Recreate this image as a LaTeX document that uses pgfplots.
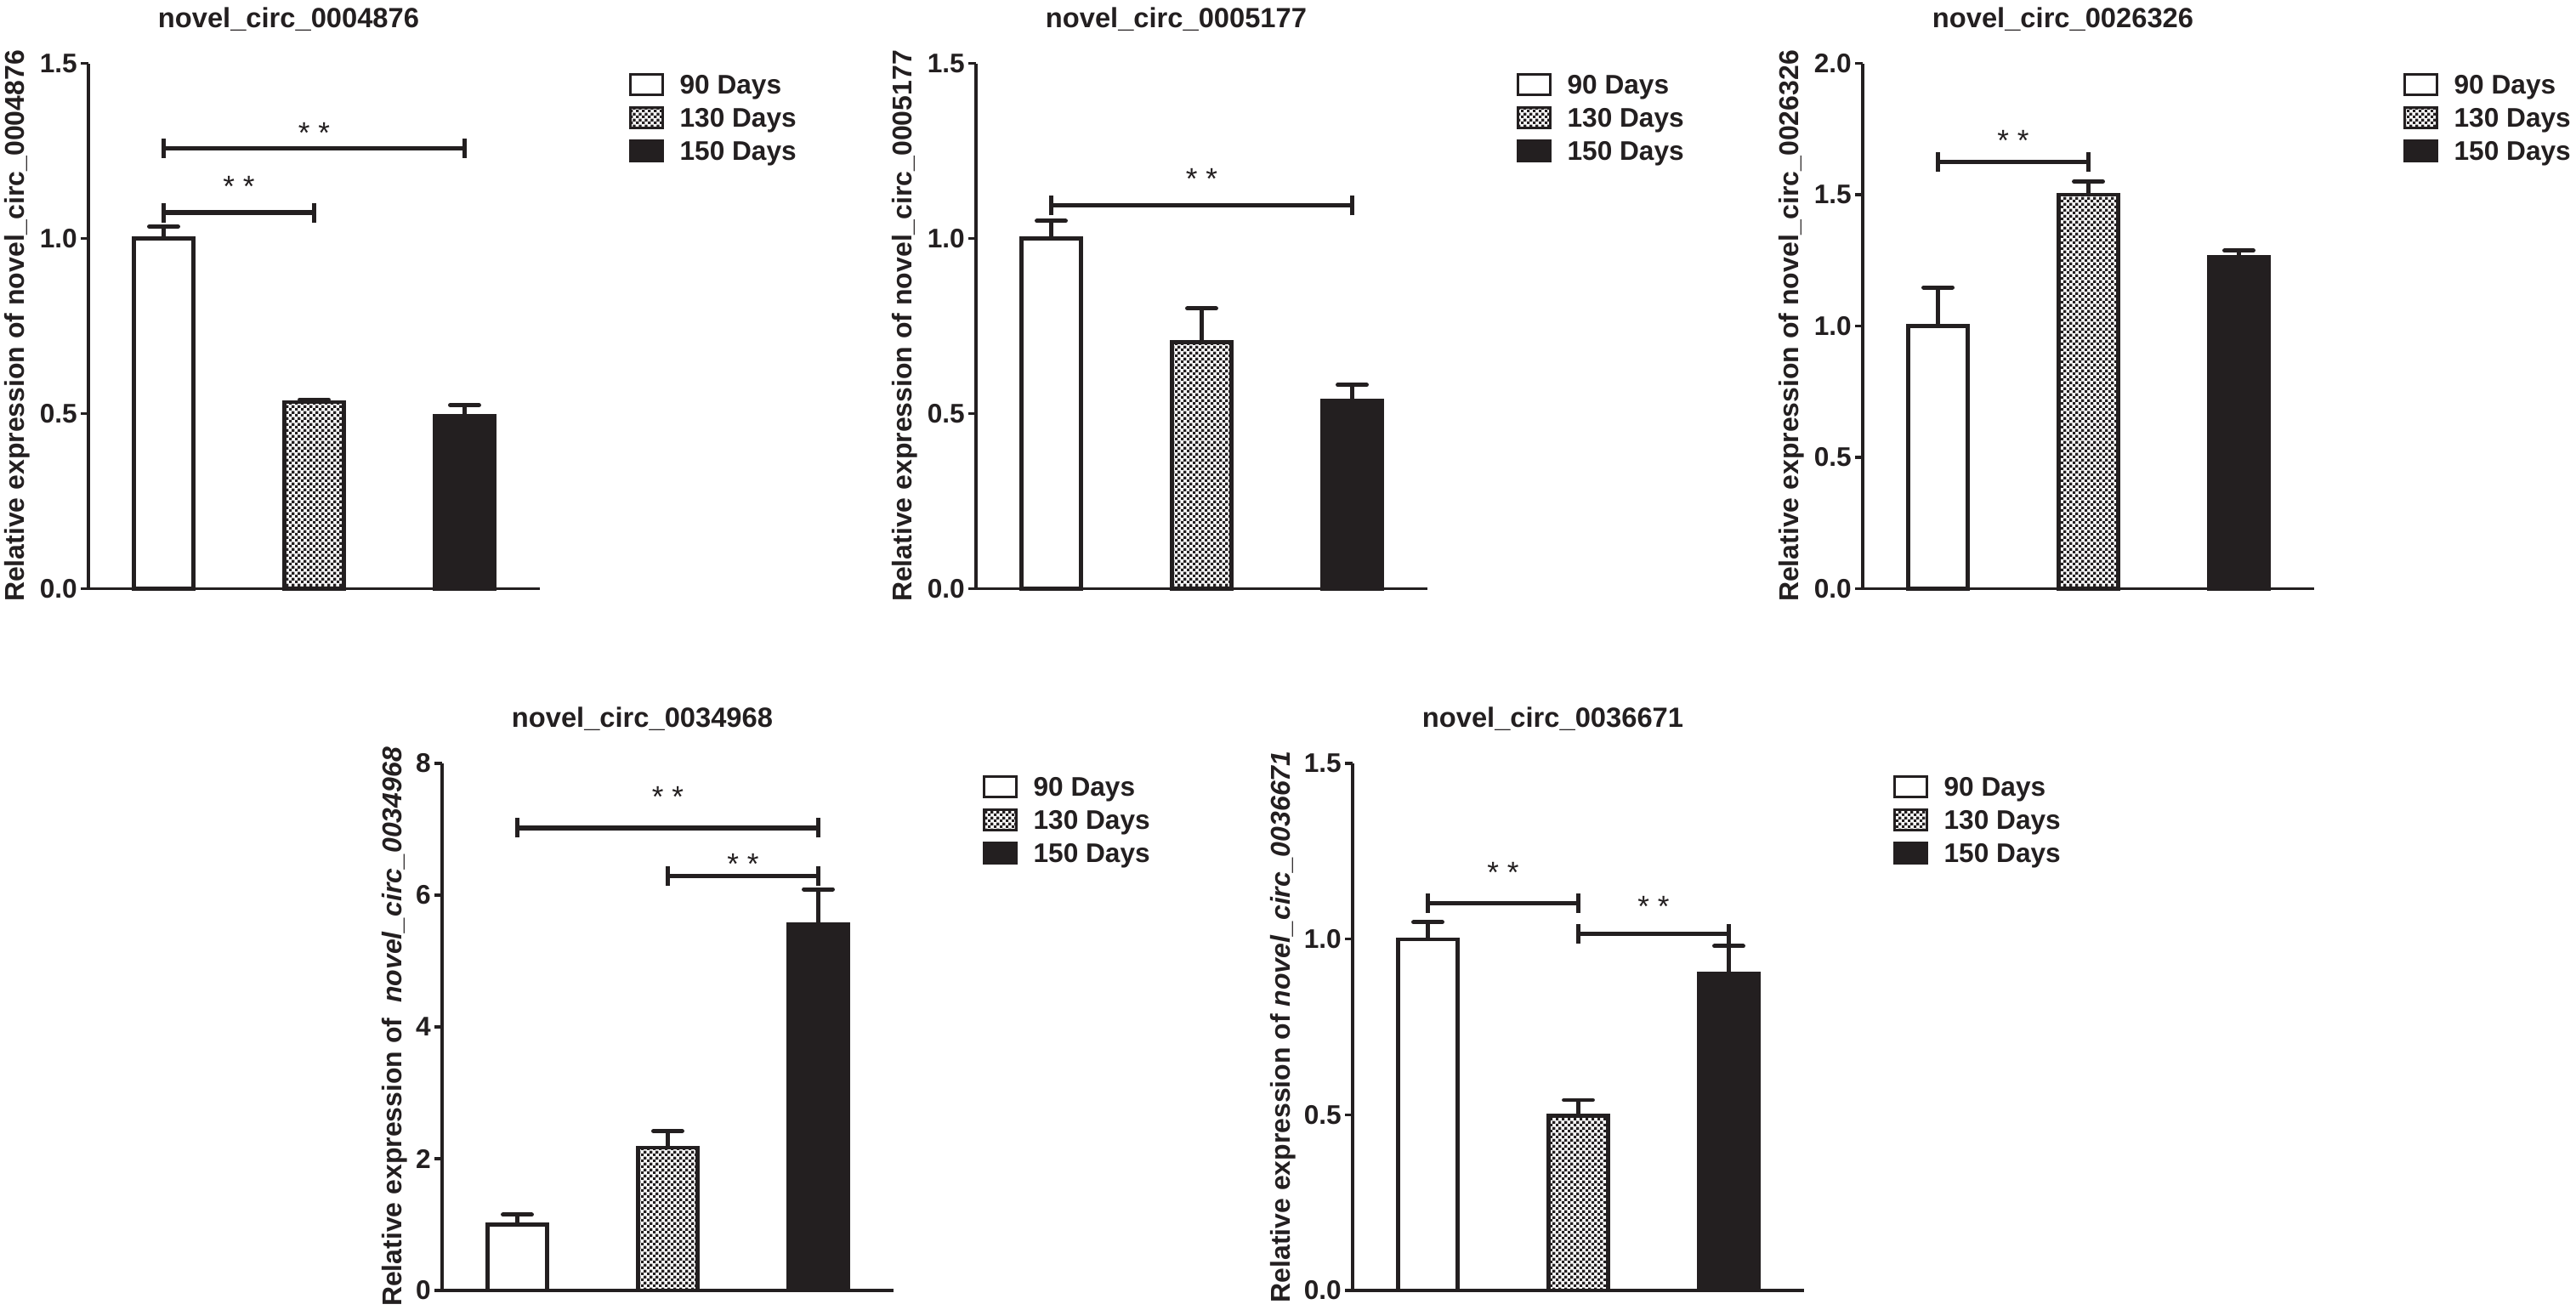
\documentclass[border=0pt]{standalone}
\usepackage{fontspec}
\setmainfont{Liberation Sans}
\usepackage{pgfplots}
\pgfplotsset{compat=1.18}
\usetikzlibrary{patterns}
\definecolor{dk}{RGB}{35,31,32}
\pgfdeclarepatternformonly{checker}{\pgfpointorigin}{\pgfqpoint{1.9pt}{1.9pt}}{\pgfqpoint{1.9pt}{1.9pt}}{%
  \pgfpathrectangle{\pgfpointorigin}{\pgfqpoint{0.95pt}{0.95pt}}%
  \pgfpathrectangle{\pgfqpoint{0.95pt}{0.95pt}}{\pgfqpoint{0.95pt}{0.95pt}}%
  \pgfusepath{fill}}
\pgfplotsset{
  panel/.style={
    scale only axis, width=53.1mm, height=61.8mm,
    xmin=0, xmax=3, ymin=0, clip=false,
    axis lines=left, axis line style={-, line width=0.9pt, draw=dk},
    xtick=\empty, tick align=outside, major tick length=0.9mm,
    ytick style={line width=0.9pt, draw=dk},
    /pgf/number format/assume math mode=true,
    yticklabel style={font=\bfseries\fontsize{9}{9}\selectfont, inner sep=1pt, text=dk,
      /pgf/number format/.cd, fixed, fixed zerofill, precision=1},
    ybar, bar width=7.0mm, bar shift=0pt,
    title style={font=\bfseries\fontsize{9.3}{9.3}\selectfont, text=dk,
      at={(axis description cs:0.4435,1)}, anchor=base, yshift=2.1mm},
    ylabel style={font=\bfseries\fontsize{9.1}{9.1}\selectfont, text=dk,
      at={(axis description cs:-0.158,0.5)}, anchor=center},
    legend image code/.code={\draw[#1, line width=0.9pt] (0mm,-1.2mm) rectangle (3.8mm,1.2mm);},
    legend style={draw=none, fill=none, inner sep=0pt, outer sep=0pt,
      at={(axis description cs:1.1977,0.9887)}, anchor=north west,
      font=\bfseries\fontsize{9}{9}\selectfont, text=dk,
      nodes={inner sep=0pt, text height=2.9mm, text depth=0.7mm},
      row sep=0.3mm, /tikz/every odd column/.append style={column sep=1.85mm}},
    legend cell align=left,
  },
  barA/.style={fill=white, draw=dk, line width=1.2pt},
  barB/.style={fill=white, postaction={pattern=checker, pattern color=dk}, draw=dk, line width=1.2pt},
  barC/.style={fill=dk, draw=dk, line width=1.2pt},
  eb/.style={error bars/.cd, y dir=plus, y explicit,
    error bar style={line width=1.4pt, draw=dk},
    error mark options={line width=1.4pt, mark size=1.7mm, draw=dk, rotate=90, line cap=round}},
}
\newcommand{\threebars}[6]{%
  \addplot[barA, eb] coordinates {(0.5,#1) +- (0,#2)};
  \addplot[barB, eb] coordinates {(1.5,#3) +- (0,#4)};
  \addplot[barC, eb] coordinates {(2.5,#5) +- (0,#6)};
  \legend{90 Days,130 Days,150 Days}}
% \sig{x1}{x2}{y}{ystar}
\newcommand{\sig}[4]{%
  \draw[line width=1.45pt, dk] (axis cs:#1,#3) -- (axis cs:#2,#3);
  \draw[line width=1.45pt, dk] (axis cs:#1,#3) ++(0,-1.15mm) -- ++(0,2.3mm);
  \draw[line width=1.45pt, dk] (axis cs:#2,#3) ++(0,-1.15mm) -- ++(0,2.3mm);
  \node[font=\fontsize{10}{10}\selectfont, text=dk, anchor=base, yshift=-2mm, inner sep=0pt] at (axis cs:{(#1+#2)/2},#4) {* *};}
\begin{document}
\begin{tikzpicture}
\path[use as bounding box] (0,0) rectangle (303mm,-154.1mm);

\begin{axis}[panel, at={(10.4mm,-69.25mm)}, anchor=south west,
  ymax=1.5, ytick={0,0.5,1,1.5},
  title={novel\_circ\_0004876},
  ylabel={Relative expression of novel\_circ\_0004876}]
\threebars{1.0}{0.034}{0.532}{0.008}{0.494}{0.03}
\sig{0.5}{1.5}{1.074}{1.167}
\sig{0.5}{2.5}{1.258}{1.32}
\end{axis}

\begin{axis}[panel, at={(114.8mm,-69.25mm)}, anchor=south west,
  ymax=1.5, ytick={0,0.5,1,1.5},
  title={novel\_circ\_0005177},
  ylabel={Relative expression of novel\_circ\_0005177}]
\threebars{1.0}{0.05}{0.704}{0.096}{0.537}{0.045}
\sig{0.5}{2.5}{1.094}{1.19}
\end{axis}

\begin{axis}[panel, at={(219.1mm,-69.25mm)}, anchor=south west,
  ymax=2, ytick={0,0.5,1,1.5,2},
  title={novel\_circ\_0026326},
  ylabel={Relative expression of novel\_circ\_0026326}]
\threebars{1.0}{0.147}{1.499}{0.051}{1.262}{0.025}
\sig{0.5}{1.5}{1.626}{1.733}
\end{axis}

\begin{axis}[panel, at={(52.0mm,-151.8mm)}, anchor=south west, height=62.0mm,
  ymax=8, ytick={0,2,4,6,8},
  yticklabel style={/pgf/number format/.cd, fixed, precision=0, fixed zerofill=false},
  ylabel style={at={(axis description cs:-0.105,0.5)}},
  legend style={at={(axis description cs:1.1977,0.985)}},
  title={novel\_circ\_0034968},
  ylabel={Relative expression of\ \ \textit{novel\_circ\_0034968}}]
\threebars{1.0}{0.15}{2.17}{0.25}{5.56}{0.53}
\sig{0.5}{2.5}{7.02}{7.6}
\sig{1.5}{2.5}{6.29}{6.57}
\end{axis}

\begin{axis}[panel, at={(159.1mm,-151.8mm)}, anchor=south west, height=62.0mm,
  ymax=1.5, ytick={0,0.5,1,1.5},
  ylabel style={at={(axis description cs:-0.154,0.5)}},
  legend style={at={(axis description cs:1.1977,0.985)}},
  title={novel\_circ\_0036671},
  ylabel={Relative expression of \textit{novel\_circ\_0036671}}]
\threebars{1.0}{0.048}{0.497}{0.045}{0.902}{0.078}
\sig{0.5}{1.5}{1.103}{1.209}
\sig{1.5}{2.5}{1.015}{1.112}
\end{axis}
\end{tikzpicture}
\end{document}
